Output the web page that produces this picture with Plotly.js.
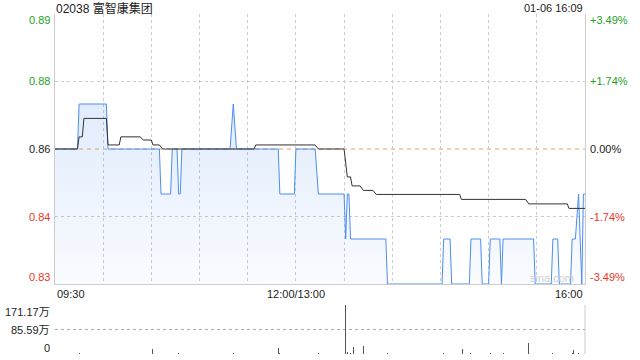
<!DOCTYPE html>
<html><head><meta charset="utf-8">
<script src="https://cdn.plot.ly/plotly-3.0.1.min.js"></script>
<style>html,body{margin:0;padding:0;background:#fff}#chart{width:640px;height:360px}</style>
</head><body><div id="chart"></div>
<script>
const stockTitle = '02038 富智康集团';
const stampText = '01-06 16:09';
const prevClose = 0.86;

const priceTimes = ['09:30','09:44','09:45','10:02','10:03','10:35','10:36','10:42','10:43','10:46','10:47','10:48','10:49',
  '11:19','11:21','11:23','11:49','11:50','11:59','13:00','13:12','13:14','13:30','13:31','13:32','13:33','13:34',
  '13:56','13:57','14:31','14:32','14:36','14:37','14:48','14:49','14:55','14:56','15:00','15:01','15:07','15:08','15:09',
  '15:28','15:29','15:39','15:40','15:43','15:44','15:51','15:52','15:54','15:56','15:58','15:59','16:00'];
const priceValues = [0.86,0.86,0.87,0.87,0.86,0.86,0.85,0.85,0.86,0.86,0.85,0.85,0.86,
  0.86,0.87,0.86,0.86,0.85,0.85,0.86,0.86,0.85,0.85,0.84,0.85,0.85,0.84,
  0.84,0.83,0.83,0.84,0.84,0.83,0.83,0.84,0.84,0.83,0.83,0.84,0.84,0.83,0.84,
  0.84,0.83,0.83,0.84,0.84,0.83,0.83,0.84,0.84,0.85,0.83,0.85,0.85];

const avgTimes = ['09:30','09:44','09:45','09:47','09:48','10:02','10:03','10:10','10:11','10:23','10:25','10:30','10:31','10:35','10:37',
  '11:34','11:35','13:12','13:14','13:30','13:32','13:34','13:35','13:40','13:42','13:48','13:50','14:42','14:43','15:23','15:25','15:49','15:50','16:00'];
const avgValues = [0.86,0.86,0.8627,0.8627,0.8668,0.8668,0.8609,0.8609,0.8627,0.8627,0.8620,0.8620,0.8609,0.8609,0.8600,
  0.8600,0.8609,0.8609,0.8600,0.8600,0.8538,0.8538,0.8518,0.8518,0.8508,0.8508,0.8499,0.8499,0.8488,0.8488,0.8478,0.8478,0.8468,0.8468];

// volume in 万 shares
const volTimes = ['09:45','10:03','10:31','10:36','10:47','11:21','11:49','11:50','13:14','13:31','13:32','13:34','13:36','13:42','13:57',
  '14:32','14:44','14:49','15:01','15:09','15:25','15:40','15:52','15:53','15:56','16:00'];
const volValues = [3,2,16.4,2,2,2,21,3,3,171.17,6,5,23,28,4,
  3,16,3,3,2,38,3,4,14,4,108];

const priceTickVals = [0.89,0.875,0.86,0.845,0.83];
const priceTickText = ['0.89','0.88','0.86','0.84','0.83'];
const pctTickText = ['+3.49%','+1.74%','0.00%','-1.74%','-3.49%'];
const volTickVals = [171.17,85.59,0];
const volTickText = ['171.17万','85.59万','0'];
const xTickTimes = ['09:30','12:00/13:00','16:00'];

function toIdx(s){
  const p = s.split('/');
  const hm = p[p.length-1].split(':');
  const m = (+hm[0])*60 + (+hm[1]);
  return m <= 720 ? m - 570 : m - 780 + 150;
}

const GREEN = '#1fa21f', RED = '#e5372a', DARK = '#222';
const FONT = '"Liberation Sans", Arial, "Noto Sans CJK SC", sans-serif';
const W = 640, H = 360, L = 55, R = 585;

const traces = [
  {x: priceTimes.map(toIdx), y: priceValues, type:'scatter', mode:'lines', xaxis:'x', yaxis:'y',
   line:{color:'#4d8ef0', width:1}, fill:'tozeroy',
   fillgradient:{type:'vertical', start:0.83, stop:0.87,
     colorscale:[[0,'rgba(77,142,240,0.03)'],[1,'rgba(77,142,240,0.17)']]}},
  {x: avgTimes.map(toIdx), y: avgValues, type:'scatter', mode:'lines', xaxis:'x', yaxis:'y',
   line:{color:'#333', width:1}},
  {x: volTimes.map(toIdx), y: volValues, type:'bar', xaxis:'x2', yaxis:'y2', width:0.6,
   marker:{color:'#555', line:{width:0}}}
];

const ann = [];
priceTickVals.forEach((v,i)=>{
  const col = v > prevClose + 1e-9 ? GREEN : (v < prevClose - 1e-9 ? RED : DARK);
  const ys = i === 0 ? -6 : (i === priceTickVals.length-1 ? 7 : 0);
  ann.push({xref:'paper', yref:'y', x:52/W, y:v, xanchor:'right', yanchor:'middle', yshift:ys,
    text:priceTickText[i], showarrow:false, font:{size:11, color:col, family:FONT}});
  ann.push({xref:'paper', yref:'y', x:588/W, y:v, xanchor:'left', yanchor:'middle', yshift:ys,
    text:pctTickText[i], showarrow:false, font:{size:11, color:col, family:FONT}});
});
volTickVals.forEach((v,i)=>{
  const ys = i === 0 ? -7 : (i === volTickVals.length-1 ? 6 : 0);
  ann.push({xref:'paper', yref:'y2', x:52/W, y:v, xanchor:'right', yanchor:'middle', yshift:ys,
    text:volTickText[i], showarrow:false, font:{size:11, color:DARK, family:FONT}});
});
const xAnch = ['left','center','right'];
xTickTimes.forEach((t,i)=>{
  ann.push({xref:'x', yref:'paper', x:toIdx(t), y:(H-293.5)/H, xanchor:xAnch[i], yanchor:'middle',
    text:t, showarrow:false, font:{size:11, color:DARK, family:FONT}});
});
ann.push({xref:'paper', yref:'paper', x:L/W - 0.002, y:(H-8)/H, xanchor:'left', yanchor:'middle',
  text:stockTitle, showarrow:false, font:{size:12, color:DARK, family:FONT}});
ann.push({xref:'paper', yref:'paper', x:R/W, y:(H-7.5)/H, xanchor:'right', yanchor:'middle',
  text:stampText, showarrow:false, font:{size:11, color:DARK, family:FONT}});
ann.push({xref:'paper', yref:'paper', x:552/W, y:(H-278)/H, xanchor:'center', yanchor:'middle',
  text:'sina.com', showarrow:false, font:{size:11, color:'#cfcfcf', family:FONT}});

const layout = {
  width:W, height:H, margin:{l:0,r:0,t:0,b:0}, paper_bgcolor:'#fff', plot_bgcolor:'rgba(0,0,0,0)',
  showlegend:false, hovermode:false,
  xaxis:{domain:[L/W, R/W], range:[0,330], anchor:'y', showgrid:true, gridcolor:'#cccccc', griddash:'dot', gridwidth:1,
    tick0:0, dtick:30, showticklabels:false, ticks:'', zeroline:false, showline:true, linecolor:'#cccccc', linewidth:1},
  yaxis:{domain:[76/H, 346/H], range:[0.83,0.89], tickvals:[0.845,0.875], showgrid:true, gridcolor:'#cccccc', griddash:'dot',
    showticklabels:false, ticks:'', zeroline:false, showline:true, mirror:true, linecolor:'#cccccc', linewidth:1},
  xaxis2:{domain:[L/W, R/W], range:[0,330], anchor:'y2', matches:'x', showgrid:false, showticklabels:false, ticks:'',
    zeroline:false, showline:false},
  yaxis2:{domain:[6/H, 55/H], range:[0,171.17], tickvals:[0,85.59,171.17], showgrid:true, gridcolor:'#aaaaaa', griddash:'dot',
    showticklabels:false, ticks:'', zeroline:false, showline:false},
  shapes:[
    {type:'line', xref:'paper', yref:'y', x0:L/W, x1:R/W, y0:prevClose, y1:prevClose, layer:'below',
     line:{color:'#ee9a60', width:1, dash:'4px,4px'}},
    {type:'line', xref:'paper', yref:'paper', x0:R/W, x1:R/W, y0:6/H, y1:55/H, layer:'below',
     line:{color:'#cccccc', width:1}}
  ],
  annotations: ann,
  bargap:0
};
Plotly.newPlot('chart', traces, layout, {staticPlot:true, displayModeBar:false});
</script></body></html>
